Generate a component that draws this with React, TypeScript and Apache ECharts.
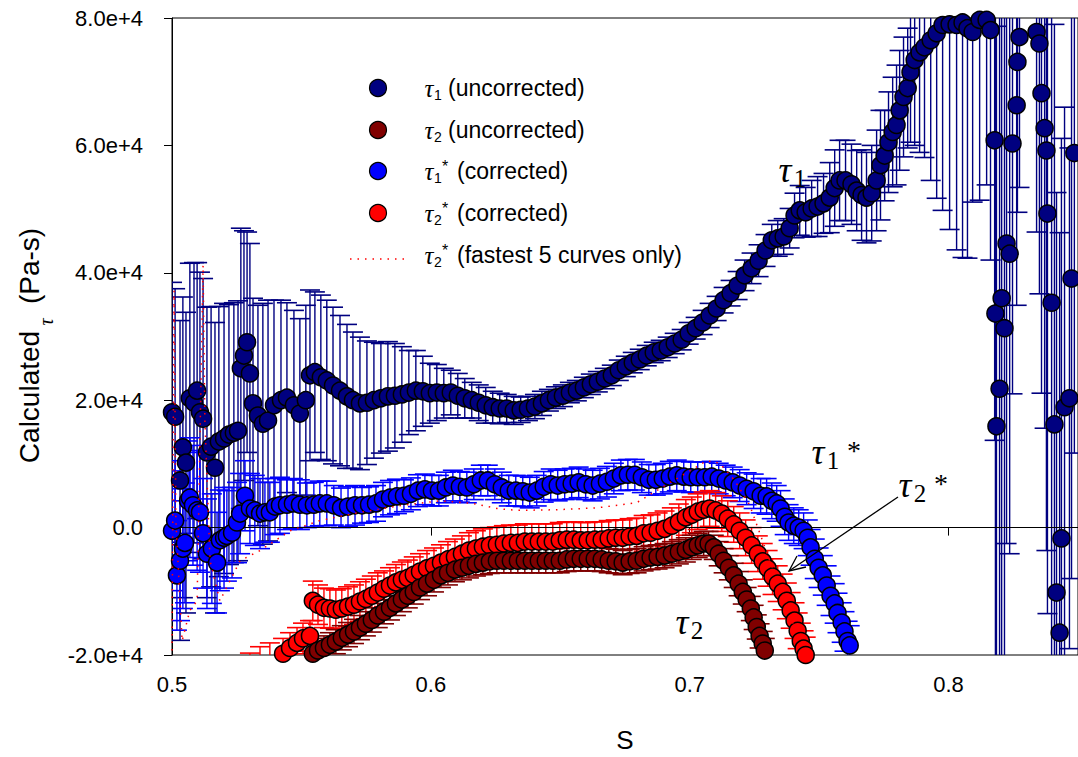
import React, { useEffect, useRef } from 'react';
import * as echarts from 'echarts';

// Each row: [S, value (x1000 Pa-s), error half-width (x1000 Pa-s)]
const tau1Uncorrected: number[][] = [
  [0.5000, 18.1, 20.4], [0.5012, 17.4, 20.1], [0.5031, 7.4, 25.1], [0.5042, 12.6, 23.6], [0.5054, 10.2, 23.6],
  [0.5069, 20.3, 21.2], [0.5085, 19.6, 22.0], [0.5097, 21.5, 20.1], [0.5108, 18.1, 22.0], [0.5120, 17.1, 22.0],
  [0.5135, 11.8, 22.8], [0.5151, 12.7, 22.0], [0.5166, 9.4, 22.8], [0.5181, 13.5, 21.2], [0.5201, 14.0, 21.2],
  [0.5220, 14.6, 20.4], [0.5239, 14.9, 20.4], [0.5255, 15.2, 20.4], [0.5266, 25.0, 22.0], [0.5278, 27.0, 19.6],
  [0.5290, 29.1, 17.3], [0.5301, 24.2, 20.4], [0.5313, 19.5, 16.5], [0.5332, 17.6, 17.3], [0.5351, 16.3, 18.9],
  [0.5371, 16.8, 18.9], [0.5394, 19.2, 16.5], [0.5421, 20.0, 15.7], [0.5444, 20.4, 14.9], [0.5471, 19.2, 14.9],
  [0.5494, 17.9, 14.9], [0.5517, 20.0, 14.9], [0.5533, 23.9, 13.4], [0.5552, 24.4, 12.6], [0.5575, 23.6, 12.9],
  [0.5598, 23.1, 12.6], [0.5622, 22.3, 12.3], [0.5649, 21.5, 11.8], [0.5676, 20.6, 11.3], [0.5699, 20.0, 10.7],
  [0.5726, 19.5, 10.4], [0.5753, 19.6, 9.7], [0.5780, 20.0, 9.1], [0.5807, 20.3, 8.6], [0.5834, 20.6, 8.6],
  [0.5861, 20.7, 8.2], [0.5888, 20.9, 7.5], [0.5915, 21.2, 6.6], [0.5942, 21.5, 6.3], [0.5969, 21.4, 5.5],
  [0.5996, 21.1, 4.7], [0.6023, 21.2, 4.4], [0.6050, 21.1, 3.9], [0.6077, 21.2, 3.5], [0.6104, 20.7, 3.5],
  [0.6131, 20.3, 3.1], [0.6158, 20.0, 2.8], [0.6185, 19.6, 2.8], [0.6212, 19.2, 2.8], [0.6239, 18.9, 2.5],
  [0.6266, 18.7, 2.4], [0.6293, 18.7, 2.2], [0.6320, 18.4, 2.2], [0.6347, 18.5, 2.0], [0.6375, 18.7, 1.9],
  [0.6402, 19.0, 1.9], [0.6429, 19.5, 1.9], [0.6456, 20.0, 1.7], [0.6483, 20.4, 1.7], [0.6510, 20.7, 1.7],
  [0.6537, 21.2, 1.6], [0.6564, 21.5, 1.6], [0.6591, 22.0, 1.6], [0.6618, 22.5, 1.6], [0.6645, 22.9, 1.6],
  [0.6672, 23.4, 1.6], [0.6699, 23.9, 1.6], [0.6726, 24.7, 1.6], [0.6753, 25.3, 1.6], [0.6780, 25.9, 1.6],
  [0.6807, 26.4, 1.6], [0.6834, 27.0, 1.6], [0.6861, 27.5, 1.6], [0.6888, 27.8, 1.6], [0.6915, 28.3, 1.6],
  [0.6942, 28.9, 1.6], [0.6969, 29.5, 1.6], [0.6996, 30.5, 1.7], [0.7023, 31.3, 1.7], [0.7050, 32.2, 1.9],
  [0.7077, 33.3, 1.9], [0.7104, 34.4, 1.9], [0.7131, 35.7, 2.0], [0.7158, 36.8, 2.0], [0.7185, 38.0, 2.2],
  [0.7212, 39.6, 2.4], [0.7239, 40.7, 2.4], [0.7266, 41.9, 2.5], [0.7293, 43.5, 2.5], [0.7317, 45.1, 2.5],
  [0.7340, 45.4, 2.8], [0.7363, 45.7, 2.8], [0.7386, 47.0, 3.1], [0.7405, 49.0, 3.5], [0.7425, 49.8, 3.9],
  [0.7448, 49.5, 3.9], [0.7471, 50.1, 4.4], [0.7494, 50.4, 4.7], [0.7517, 50.9, 4.7], [0.7541, 51.8, 5.5],
  [0.7560, 53.3, 6.0], [0.7579, 54.5, 6.3], [0.7602, 54.5, 6.3], [0.7625, 53.9, 6.3], [0.7645, 52.9, 6.3],
  [0.7664, 52.2, 7.1], [0.7683, 51.8, 7.1], [0.7703, 52.5, 7.5], [0.7722, 54.5, 7.9], [0.7737, 56.9, 8.6],
  [0.7753, 58.4, 7.1], [0.7768, 60.5, 7.9], [0.7784, 62.1, 8.6], [0.7799, 63.2, 9.4], [0.7811, 65.5, 9.4],
  [0.7826, 67.6, 9.4], [0.7842, 69.0, 9.4], [0.7853, 71.5, 11.0], [0.7869, 73.4, 13.4], [0.7888, 74.6, 15.7],
  [0.7907, 75.4, 17.3], [0.7931, 76.5, 22.0], [0.7954, 77.6, 25.9], [0.7977, 78.9, 29.1], [0.8004, 79.0, 32.2],
  [0.8031, 78.9, 35.3], [0.8054, 79.3, 36.9], [0.8073, 78.4, 36.1], [0.8093, 77.8, 26.7], [0.8120, 79.7, 28.3],
  [0.8147, 79.7, 25.9], [0.8162, 78.1, 36.1], [0.8178, 60.8, 47.1], [0.8181, 33.6, 62.8], [0.8185, 15.9, 62.8],
  [0.8197, 21.8, 62.8], [0.8205, 36.0, 62.8], [0.8216, 31.3, 62.8], [0.8224, 44.6, 47.1], [0.8236, 43.0, 47.1],
  [0.8247, 60.3, 39.3], [0.8263, 66.3, 31.4], [0.8266, 73.1, 23.6], [0.8274, 77.0, 23.6], [0.8340, 77.8, 31.4],
  [0.8351, 76.0, 39.3], [0.8359, 68.2, 47.1], [0.8371, 62.7, 47.1], [0.8378, 59.2, 62.8], [0.8382, 49.3, 62.8],
  [0.8398, 35.3, 62.8], [0.8409, 16.2, 62.8], [0.8417, -10.2, 62.8], [0.8429, -16.5, 62.8], [0.8436, -1.7, 62.8],
  [0.8448, 18.9, 47.1], [0.8467, 20.3, 39.3], [0.8475, 39.1, 47.1], [0.8486, 58.8, 47.1],
];

const tau1Corrected: number[][] = [
  [0.5000, -0.5, 9.4], [0.5012, 1.1, 9.4], [0.5019, -7.5, 8.6], [0.5031, -5.2, 9.4], [0.5042, -3.3, 9.4],
  [0.5050, -2.4, 9.4], [0.5062, 4.2, 9.4], [0.5069, 4.7, 9.4], [0.5081, 3.5, 9.4], [0.5097, 2.7, 9.4],
  [0.5108, 2.4, 9.4], [0.5120, -0.9, 8.6], [0.5135, -4.1, 8.6], [0.5154, -3.3, 8.6], [0.5174, -5.5, 7.9],
  [0.5185, -2.0, 7.9], [0.5201, -1.6, 7.9], [0.5212, -1.3, 7.1], [0.5232, -0.8, 7.1], [0.5251, 0.8, 6.3],
  [0.5263, 2.2, 6.3], [0.5282, 5.0, 5.5], [0.5301, 3.0, 5.5], [0.5320, 2.7, 5.5], [0.5340, 2.2, 5.5],
  [0.5359, 2.4, 4.7], [0.5378, 2.4, 4.7], [0.5398, 3.3, 4.4], [0.5417, 3.5, 4.4], [0.5444, 3.6, 3.9],
  [0.5467, 3.8, 3.9], [0.5494, 3.6, 3.9], [0.5521, 3.5, 3.5], [0.5548, 3.6, 3.5], [0.5571, 3.8, 3.5],
  [0.5598, 3.8, 3.5], [0.5625, 3.5, 3.1], [0.5653, 3.1, 3.1], [0.5680, 3.3, 3.1], [0.5707, 3.5, 3.1],
  [0.5734, 3.5, 2.8], [0.5761, 3.6, 2.8], [0.5788, 3.8, 2.8], [0.5815, 4.4, 2.7], [0.5842, 4.7, 2.7],
  [0.5869, 4.9, 2.7], [0.5896, 5.0, 2.5], [0.5923, 5.3, 2.5], [0.5950, 5.8, 2.5], [0.5977, 6.0, 2.4],
  [0.6004, 5.8, 2.4], [0.6031, 5.8, 2.4], [0.6058, 6.3, 2.4], [0.6085, 6.6, 2.4], [0.6112, 6.4, 2.4],
  [0.6139, 6.3, 2.4], [0.6166, 6.8, 2.4], [0.6193, 7.4, 2.4], [0.6220, 7.4, 2.4], [0.6247, 6.8, 2.4],
  [0.6274, 6.3, 2.4], [0.6301, 5.8, 2.4], [0.6328, 5.8, 2.4], [0.6355, 5.7, 2.4], [0.6382, 5.5, 2.4],
  [0.6409, 5.8, 2.4], [0.6436, 6.4, 2.4], [0.6463, 6.8, 2.4], [0.6490, 6.6, 2.4], [0.6517, 6.8, 2.4],
  [0.6544, 6.9, 2.4], [0.6571, 7.1, 2.4], [0.6598, 6.8, 2.4], [0.6625, 6.6, 2.4], [0.6653, 6.9, 2.4],
  [0.6680, 7.2, 2.4], [0.6707, 7.7, 2.4], [0.6734, 8.2, 2.4], [0.6761, 8.3, 2.4], [0.6788, 8.3, 2.4],
  [0.6815, 7.9, 2.4], [0.6842, 7.5, 2.4], [0.6869, 7.5, 2.4], [0.6896, 7.7, 2.4], [0.6923, 8.0, 2.4],
  [0.6950, 8.2, 2.4], [0.6977, 8.0, 2.4], [0.7004, 7.9, 2.4], [0.7031, 7.9, 2.4], [0.7058, 7.9, 2.4],
  [0.7085, 8.0, 2.4], [0.7112, 7.7, 2.4], [0.7139, 7.4, 2.4], [0.7166, 7.1, 2.4], [0.7193, 6.6, 2.5],
  [0.7220, 6.1, 2.5], [0.7247, 5.7, 2.7], [0.7274, 5.0, 2.7], [0.7297, 4.9, 2.8], [0.7317, 4.2, 2.8],
  [0.7336, 3.8, 2.8], [0.7351, 3.0, 2.8], [0.7367, 1.7, 2.8], [0.7382, 0.8, 2.8], [0.7402, 0.3, 2.8],
  [0.7421, 0.0, 2.8], [0.7440, -0.5, 2.8], [0.7456, -1.6, 2.8], [0.7467, -3.1, 2.8], [0.7483, -4.9, 3.1],
  [0.7498, -6.3, 3.1], [0.7514, -7.5, 3.1], [0.7529, -9.1, 3.1], [0.7544, -10.7, 3.1], [0.7560, -11.9, 3.1],
  [0.7571, -13.4, 3.1], [0.7587, -14.9, 3.1], [0.7598, -16.3, 3.1], [0.7610, -17.8, 3.1], [0.7618, -18.5, 3.1],
];

const tau2Corrected: number[][] = [
  [0.5301, -22.8, 3.1], [0.5340, -21.8, 3.1], [0.5378, -21.2, 3.1],
  [0.5429, -19.8, 2.4], [0.5456, -18.9, 2.4], [0.5483, -18.1, 2.4], [0.5506, -17.4, 2.4], [0.5533, -17.0, 2.4],
  [0.5544, -11.5, 3.1], [0.5564, -12.1, 3.1], [0.5587, -12.6, 3.1], [0.5610, -12.7, 3.1], [0.5633, -12.9, 3.1],
  [0.5656, -12.7, 3.1], [0.5680, -12.4, 3.1], [0.5703, -12.1, 3.1], [0.5726, -11.6, 3.1], [0.5749, -11.2, 3.1],
  [0.5772, -10.7, 3.1], [0.5795, -10.2, 3.1], [0.5819, -9.6, 2.8], [0.5842, -9.1, 2.8], [0.5865, -8.6, 2.8],
  [0.5888, -8.2, 2.8], [0.5911, -7.9, 2.8], [0.5934, -7.4, 2.8], [0.5958, -6.9, 2.8], [0.5985, -6.4, 2.8],
  [0.6012, -6.0, 2.8], [0.6039, -5.5, 2.8], [0.6066, -5.0, 2.8], [0.6093, -4.6, 2.8], [0.6120, -4.1, 2.8],
  [0.6147, -3.6, 2.8], [0.6174, -3.3, 2.8], [0.6201, -3.0, 2.8], [0.6228, -2.8, 2.8], [0.6255, -2.7, 2.8],
  [0.6282, -2.5, 2.8], [0.6309, -2.4, 2.8], [0.6336, -2.4, 2.8], [0.6363, -2.2, 2.8], [0.6390, -2.2, 2.8],
  [0.6417, -2.2, 2.8], [0.6444, -2.2, 2.8], [0.6471, -2.2, 2.8], [0.6498, -2.0, 2.8], [0.6525, -1.9, 2.8],
  [0.6552, -1.9, 2.8], [0.6579, -2.0, 2.8], [0.6606, -2.0, 2.8], [0.6633, -1.9, 2.8], [0.6660, -1.9, 2.8],
  [0.6687, -1.7, 2.8], [0.6714, -1.6, 2.8], [0.6741, -1.6, 2.8], [0.6768, -1.4, 2.8], [0.6795, -1.3, 2.8],
  [0.6822, -0.9, 2.8], [0.6849, -0.8, 2.8], [0.6876, -0.5, 2.8], [0.6903, -0.2, 2.8], [0.6931, 0.3, 2.8],
  [0.6958, 0.9, 2.8], [0.6985, 1.6, 2.8], [0.7008, 2.0, 2.8], [0.7031, 2.5, 2.8], [0.7054, 2.8, 2.8],
  [0.7077, 3.0, 2.8], [0.7100, 2.7, 2.8], [0.7124, 2.2, 2.8], [0.7147, 1.4, 2.8], [0.7170, 0.5, 2.8],
  [0.7193, -0.5, 2.8], [0.7216, -1.6, 2.8], [0.7239, -2.8, 2.8], [0.7263, -4.1, 2.8], [0.7282, -5.3, 2.8],
  [0.7301, -6.4, 2.8], [0.7320, -7.7, 2.8], [0.7340, -8.8, 2.8], [0.7359, -10.1, 2.8], [0.7375, -11.5, 2.8],
  [0.7390, -13.0, 2.8], [0.7405, -14.6, 2.8], [0.7417, -16.2, 2.8], [0.7429, -17.8, 2.8], [0.7440, -19.0, 2.8],
  [0.7448, -20.0, 2.8],
];

const tau2Uncorrected: number[][] = [
  [0.5544, -19.8, 1.9], [0.5564, -19.3, 1.9], [0.5587, -18.9, 1.9], [0.5610, -18.4, 1.9], [0.5633, -17.9, 1.9],
  [0.5656, -17.3, 1.9], [0.5680, -16.8, 1.9], [0.5703, -16.3, 1.9], [0.5726, -15.7, 1.9], [0.5749, -15.1, 1.9],
  [0.5772, -14.5, 1.9], [0.5795, -13.8, 1.9], [0.5819, -13.2, 1.9], [0.5842, -12.6, 1.9], [0.5865, -11.9, 1.9],
  [0.5888, -11.3, 1.9], [0.5911, -10.7, 1.9], [0.5934, -10.1, 1.9], [0.5958, -9.4, 1.9], [0.5985, -8.8, 1.9],
  [0.6012, -8.2, 1.9], [0.6039, -7.5, 1.9], [0.6066, -7.1, 1.9], [0.6093, -6.6, 1.9], [0.6120, -6.3, 1.9],
  [0.6147, -6.0, 1.9], [0.6174, -5.7, 1.9], [0.6201, -5.5, 1.9], [0.6228, -5.3, 1.9], [0.6255, -5.2, 1.9],
  [0.6282, -5.2, 1.9], [0.6309, -5.2, 1.9], [0.6336, -5.2, 1.9], [0.6363, -5.2, 1.9], [0.6390, -5.2, 1.9],
  [0.6417, -5.2, 1.9], [0.6444, -5.2, 1.9], [0.6471, -5.2, 1.9], [0.6498, -5.2, 1.9], [0.6525, -5.0, 1.9],
  [0.6552, -4.9, 1.9], [0.6579, -4.9, 1.9], [0.6606, -4.9, 1.9], [0.6633, -4.9, 1.9], [0.6660, -5.0, 1.9],
  [0.6687, -5.2, 1.9], [0.6714, -5.3, 1.9], [0.6741, -5.5, 1.9], [0.6768, -5.3, 1.9], [0.6795, -5.2, 1.9],
  [0.6822, -4.9, 1.9], [0.6849, -4.7, 1.9], [0.6876, -4.6, 1.9], [0.6903, -4.4, 1.9], [0.6931, -4.1, 1.9],
  [0.6958, -3.8, 1.9], [0.6985, -3.5, 1.9], [0.7008, -3.1, 1.9], [0.7031, -2.8, 1.9], [0.7054, -2.5, 1.9],
  [0.7073, -2.5, 1.9], [0.7093, -3.1, 1.9], [0.7112, -4.1, 1.9], [0.7131, -5.2, 1.9], [0.7151, -6.3, 1.9],
  [0.7170, -7.5, 1.9], [0.7189, -8.8, 1.9], [0.7205, -10.1, 1.9], [0.7220, -11.3, 1.9], [0.7236, -12.7, 1.9],
  [0.7247, -14.1, 1.9], [0.7259, -15.6, 1.9], [0.7270, -17.0, 1.9], [0.7282, -18.2, 1.9], [0.7290, -19.3, 1.9],
];

// [S, value (x1000 Pa-s)]
const tau2Fastest: number[][] = [
  [0.5000, -19.3], [0.5004, 9.0], [0.5008, 37.2], [0.5015, 1.1], [0.5039, -17.8], [0.5069, -13.0],
  [0.5097, -11.5], [0.5120, 41.2], [0.5127, 16.8], [0.5147, -5.2], [0.5185, -11.5], [0.5263, -5.2],
  [0.5340, -3.6], [0.5456, -0.5], [0.5571, 1.1], [0.5726, 2.4], [0.5888, 3.5], [0.6035, 4.2],
  [0.6162, 3.8], [0.6255, 3.0], [0.6332, 2.7], [0.6486, 2.8], [0.6641, 3.1], [0.6795, 3.9],
  [0.6884, 6.1], [0.6988, 8.6], [0.7066, 10.5], [0.7116, 10.1], [0.7174, 7.4], [0.7232, 3.5],
  [0.7309, -5.2], [0.7386, -13.0], [0.7425, -19.3],
];

const xRange = { min: 0.5, max: 0.85, interval: 0.1 };
const yRange = { min: -20000, max: 80000, interval: 20000 };
const seriesNames = ['τ1 (uncorrected)', 'τ2 (uncorrected)', 'τ1* (corrected)', 'τ2* (corrected)', 'τ2* (fastest 5 curves only)'];
const legendLabels = ['(uncorrected)', '(uncorrected)', '(corrected)', '(corrected)', '(fastest 5 curves only)'];
const legendSubs = ['1', '2', '1', '2', '2'];
const legendStars = [false, false, true, true, true];

const NAVY = '#000080';
const DARKRED = '#800000';
const BLUE = '#0000ff';
const RED = '#ff0000';
const SANS = 'Liberation Sans';
const SERIF = 'Liberation Serif';

const K = 1000;
const toPts = (arr: number[][]) => arr.map((d) => [d[0], d[1] * K]);
const toErr = (arr: number[][]) => arr.map((d) => [d[0], d[1] * K, d[2] * K]);

const errRender = (color: string, cap: number, width: number) => (_p: any, api: any) => {
  const x = api.value(0);
  const y = api.value(1);
  const e = api.value(2);
  const a = api.coord([x, y + e]);
  const b = api.coord([x, y - e]);
  const style = { stroke: color, lineWidth: width, fill: null };
  const capStyle = { stroke: color, lineWidth: 1.6, fill: null };
  return {
    type: 'group',
    children: [
      { type: 'line', shape: { x1: a[0], y1: a[1], x2: b[0], y2: b[1] }, style },
      { type: 'line', shape: { x1: a[0] - cap, y1: a[1], x2: a[0] + cap, y2: a[1] }, style: capStyle },
      { type: 'line', shape: { x1: b[0] - cap, y1: b[1], x2: b[0] + cap, y2: b[1] }, style: capStyle },
    ],
  };
};

const errSeries = (name: string, arr: number[][], color: string, z: number) => ({
  type: 'custom',
  name,
  renderItem: errRender(color, 10, 1.4),
  data: toErr(arr),
  encode: { x: 0, y: 1 },
  clip: true,
  silent: true,
  z,
});

const ptSeries = (name: string, arr: number[][], color: string, z: number) => ({
  type: 'scatter',
  name,
  data: toPts(arr),
  symbol: 'circle',
  symbolSize: 17,
  itemStyle: { color, borderColor: '#000', borderWidth: 1.5, opacity: 1 },
  silent: true,
  z,
});

function txt(text: string, x: number, y: number, size: number, opts: any = {}) {
  return {
    type: 'text',
    x,
    y,
    rotation: opts.rotation || 0,
    silent: true,
    z: 100,
    style: {
      text,
      fontSize: size,
      fontFamily: opts.family || SANS,
      fontStyle: opts.italic ? 'italic' : 'normal',
      fill: '#000',
      align: opts.align || 'center',
      verticalAlign: 'middle',
    },
  };
}

function buildGraphics() {
  const g: any[] = [];
  const colors = [NAVY, DARKRED, BLUE, RED, null];
  const rowY = [88, 130, 171, 213, 255];
  legendLabels.forEach((label, i) => {
    const y = rowY[i];
    const c = colors[i];
    if (c) {
      g.push({ type: 'circle', shape: { cx: 378, cy: y, r: 8.5 }, style: { fill: c, stroke: '#000', lineWidth: 1.2 }, z: 100, silent: true });
    } else {
      g.push({ type: 'line', shape: { x1: 350, y1: y + 4, x2: 404, y2: y + 4 }, style: { stroke: RED, lineWidth: 1.5, lineDash: [1.5, 6] }, z: 100, silent: true });
    }
    g.push(txt('τ', 429, y, 25, { family: SERIF, italic: true }));
    g.push(txt(legendSubs[i], 438, y + 7, 14));
    if (legendStars[i]) g.push(txt('*', 445, y - 5, 16));
    g.push(txt(label, legendStars[i] ? 457 : 448, y, 23, { align: 'left' }));
  });
  // curve annotations
  const ann = (x: number, y: number, sub: string, star: boolean) => {
    g.push(txt('τ', x, y, 36, { family: SERIF, italic: true }));
    g.push(txt(sub, x + 15, y + 8, 25, { family: SERIF }));
    if (star) g.push(txt('*', x + 36, y - 2, 28, { family: SERIF }));
  };
  ann(785, 170, '1', false);
  ann(818, 452, '1', true);
  ann(905, 485, '2', true);
  ann(682, 622, '2', false);
  // arrow
  g.push({ type: 'line', shape: { x1: 898, y1: 497, x2: 789, y2: 571 }, style: { stroke: '#000', lineWidth: 1.3 }, z: 100, silent: true });
  g.push({ type: 'polyline', shape: { points: [[797, 556], [789, 571], [806, 567]] }, style: { stroke: '#000', lineWidth: 1.3, fill: null }, z: 100, silent: true });
  // axis titles
  g.push(txt('S', 625, 740, 26));
  g.push(txt('Calculated', 29, 397, 28, { rotation: Math.PI / 2 }));
  g.push(txt('τ', 46, 322, 20, { rotation: Math.PI / 2, family: SERIF, italic: true }));
  g.push(txt('(Pa-s)', 29, 266, 28, { rotation: Math.PI / 2 }));
  return g;
}

export default function App() {
  const ref = useRef<HTMLDivElement>(null);
  useEffect(() => {
    if (!ref.current) return;
    const chart = echarts.init(ref.current, undefined, { renderer: 'svg' });
    const option: any = {
      animation: false,
      backgroundColor: '#fff',
      grid: { left: 172, right: 0, top: 18, bottom: 102, show: true, borderColor: '#000', borderWidth: 1, backgroundColor: 'transparent' },
      xAxis: {
        type: 'value',
        min: xRange.min,
        max: xRange.max,
        interval: xRange.interval,
        axisLine: { show: true, lineStyle: { color: '#000', width: 1 } },
        axisTick: { show: true, inside: false, length: 8, lineStyle: { color: '#000' } },
        axisLabel: { color: '#000', fontSize: 22, fontFamily: SANS, margin: 18, showMaxLabel: false, formatter: (v: number) => v.toFixed(1) },
        splitLine: { show: false },
      },
      yAxis: {
        type: 'value',
        min: yRange.min,
        max: yRange.max,
        interval: yRange.interval,
        axisLine: { show: true, lineStyle: { color: '#000', width: 1 } },
        axisTick: { show: true, inside: false, length: 8, lineStyle: { color: '#000' } },
        axisLabel: {
          color: '#000', fontSize: 22, fontFamily: SANS, margin: 29,
          formatter: (v: number) => (v === 0 ? '0.0' : (v / 1e4).toFixed(1) + 'e+4'),
        },
        splitLine: { show: false },
      },
      series: [
        errSeries(seriesNames[0] + ' err', tau1Uncorrected, NAVY, 1),
        errSeries(seriesNames[2] + ' err', tau1Corrected, BLUE, 2),
        errSeries(seriesNames[3] + ' err', tau2Corrected, RED, 3),
        errSeries(seriesNames[1] + ' err', tau2Uncorrected, DARKRED, 4),
        ptSeries(seriesNames[0], tau1Uncorrected, NAVY, 5),
        ptSeries(seriesNames[2], tau1Corrected, BLUE, 6),
        ptSeries(seriesNames[3], tau2Corrected, RED, 7),
        ptSeries(seriesNames[1], tau2Uncorrected, DARKRED, 8),
        {
          type: 'line',
          name: seriesNames[4],
          data: toPts(tau2Fastest),
          symbol: 'none',
          lineStyle: { color: RED, width: 1.5, type: [1.5, 6] },
          silent: true,
          z: 9,
          markLine: {
            silent: true,
            symbol: ['none', 'none'],
            label: { show: false },
            lineStyle: { color: '#000', width: 1, type: 'solid' },
            data: [{ yAxis: 0 }],
          },
        },
      ],
      graphic: buildGraphics(),
    };
    chart.setOption(option);
    return () => chart.dispose();
  }, []);
  return <div ref={ref} style={{ position: 'absolute', left: 0, top: 0, width: 1078, height: 757 }} />;
}
